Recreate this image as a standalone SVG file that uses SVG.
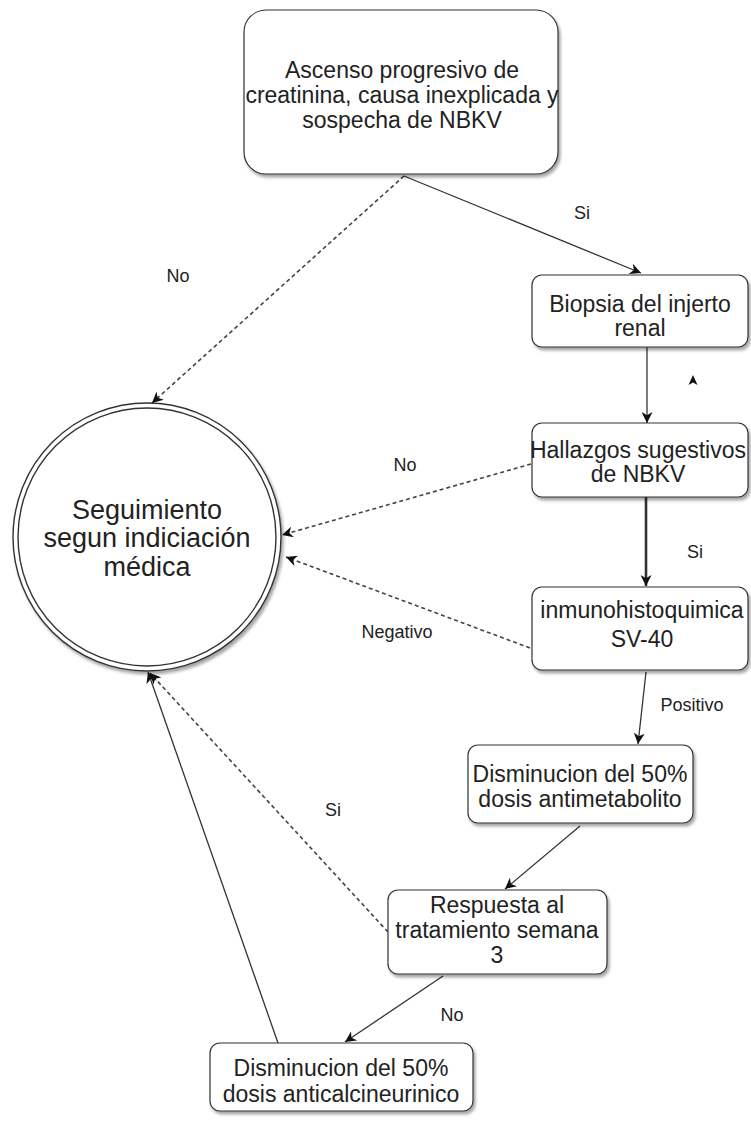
<svg xmlns="http://www.w3.org/2000/svg" width="751" height="1121" viewBox="0 0 751 1121">
<style>
.box{fill:#fff;stroke:#333;stroke-width:1.2;filter:url(#sh)}
.t{font-family:"Liberation Sans",Arial,sans-serif;font-size:23px;fill:#222;text-anchor:middle}
.ct{font-family:"Liberation Sans",Arial,sans-serif;font-size:27px;fill:#222;text-anchor:middle}
.lb{font-family:"Liberation Sans",Arial,sans-serif;font-size:18px;fill:#222;text-anchor:middle}
.e{fill:none;stroke:#333;stroke-width:1.3}
.d{fill:none;stroke:#444;stroke-width:1.6;stroke-dasharray:4 3}
</style>
<defs>
<filter id="sh" x="-10%" y="-10%" width="125%" height="130%">
<feDropShadow dx="2" dy="3" stdDeviation="1.5" flood-color="#000" flood-opacity="0.35"/>
</filter>
<marker id="a" viewBox="0 0 10 10" refX="10" refY="5" markerWidth="11" markerHeight="11" markerUnits="userSpaceOnUse" orient="auto">
<path d="M0,0 L10,5 L0,10 L3,5 z" fill="#111"/>
</marker>
</defs>
<g id="connectors">
<line class="e" x1="404" y1="176" x2="641" y2="273" marker-end="url(#a)"/>
<line class="d" x1="404" y1="176" x2="152" y2="403" marker-end="url(#a)"/>
<line class="e" x1="647" y1="347" x2="647" y2="423" marker-end="url(#a)"/>
<line class="d" x1="531" y1="464" x2="282" y2="535" marker-end="url(#a)"/>
<line class="e" style="stroke-width:2.6" x1="646" y1="497" x2="646" y2="586" marker-end="url(#a)"/>
<line class="d" x1="530" y1="648" x2="286" y2="557" marker-end="url(#a)"/>
<line class="e" x1="646" y1="672" x2="638" y2="744" marker-end="url(#a)"/>
<line class="e" x1="580" y1="826" x2="505" y2="889" marker-end="url(#a)"/>
<line class="d" x1="388" y1="932" x2="150" y2="673" marker-end="url(#a)"/>
<line class="e" x1="443" y1="976" x2="345" y2="1042" marker-end="url(#a)"/>
<line class="e" x1="278" y1="1043" x2="148" y2="672" marker-end="url(#a)"/>
<path d="M693,375 L697.5,385 L693,382.5 L688.5,385 z" fill="#111"/>
<text class="lb" x="582" y="219">Si</text>
<text class="lb" x="178" y="282">No</text>
<text class="lb" x="405" y="471">No</text>
<text class="lb" x="695" y="558">Si</text>
<text class="lb" x="397" y="638">Negativo</text>
<text class="lb" x="692" y="711">Positivo</text>
<text class="lb" x="333" y="816">Si</text>
<text class="lb" x="452" y="1021">No</text>
</g>
<g id="n-inicio">
<rect class="box" x="244" y="10" width="314" height="164" rx="22"/>
<text class="t" x="402" y="78">Ascenso progresivo de</text>
<text class="t" x="402" y="103">creatinina, causa inexplicada y</text>
<text class="t" x="402" y="128">sospecha de NBKV</text>
</g>
<g id="n-biopsia">
<rect class="box" x="532" y="275" width="216" height="72" rx="10"/>
<text class="t" x="640" y="312">Biopsia del injerto</text>
<text class="t" x="640" y="336">renal</text>
</g>
<g id="n-hallazgos">
<rect class="box" x="532" y="423" width="216" height="74" rx="10"/>
<text class="t" x="638" y="458">Hallazgos sugestivos</text>
<text class="t" x="638" y="482">de NBKV</text>
</g>
<g id="n-inmuno">
<rect class="box" x="532" y="587" width="216" height="83" rx="10"/>
<text class="t" x="642" y="618">inmunohistoquimica</text>
<text class="t" x="642" y="647">SV-40</text>
</g>
<g id="n-antimetabolito">
<rect class="box" x="468" y="745" width="225" height="78" rx="10"/>
<text class="t" x="580" y="782">Disminucion del 50%</text>
<text class="t" x="580" y="807">dosis antimetabolito</text>
</g>
<g id="n-respuesta">
<rect class="box" x="388" y="890" width="219" height="84" rx="10"/>
<text class="t" x="497" y="913">Respuesta al</text>
<text class="t" x="497" y="938">tratamiento semana</text>
<text class="t" x="497" y="963">3</text>
</g>
<g id="n-anticalcineurinico">
<rect class="box" x="210" y="1043" width="263" height="68" rx="10"/>
<text class="t" x="341" y="1076">Disminucion del 50%</text>
<text class="t" x="341" y="1102">dosis anticalcineurinico</text>
</g>
<g id="n-seguimiento">
<circle cx="147" cy="537" r="134" fill="#fff" stroke="#333" stroke-width="1.4" filter="url(#sh)"/>
<circle cx="147" cy="537" r="129" fill="none" stroke="#333" stroke-width="1.4"/>
<text class="ct" x="147" y="519">Seguimiento</text>
<text class="ct" x="147" y="547">segun indiciación</text>
<text class="ct" x="147" y="576">médica</text>
</g>
</svg>
